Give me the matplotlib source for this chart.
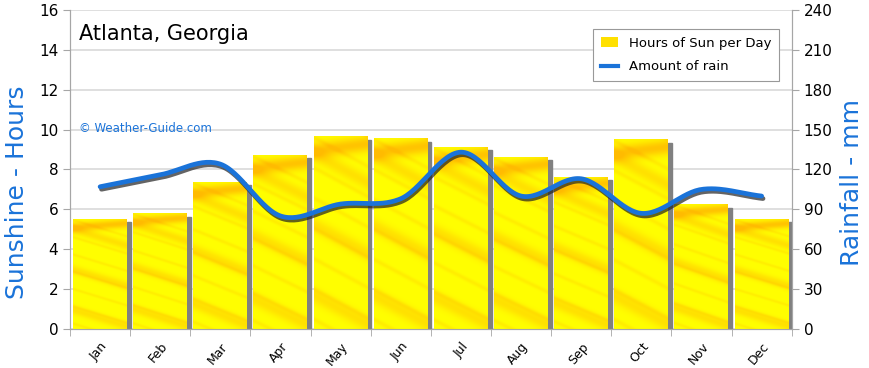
import matplotlib
matplotlib.use("Agg")
import matplotlib.pyplot as plt
import matplotlib.patheffects as pe
from matplotlib.patches import Rectangle
from matplotlib.lines import Line2D
import numpy as np

months = ['Jan', 'Feb', 'Mar', 'Apr', 'May', 'Jun', 'Jul', 'Aug', 'Sep', 'Oct', 'Nov', 'Dec']
sun_hours = [5.5, 5.78, 7.35, 8.7, 9.63, 9.53, 9.12, 8.6, 7.62, 9.5, 6.22, 5.5]
rain_mm = [107, 116, 124, 85, 94, 98, 133, 100, 113, 87, 105, 100]

blue = '#1a73d9'
grid_col = '#d9d9d9'
axis_col = '#a6a6a6'


def catmull_rom(x, y, n=30):
    # smooth line through the points (like the "smoothed line" option)
    x = np.asarray(x, float)
    y = np.asarray(y, float)
    px = np.concatenate([[2 * x[0] - x[1]], x, [2 * x[-1] - x[-2]]])
    py = np.concatenate([[2 * y[0] - y[1]], y, [2 * y[-1] - y[-2]]])
    xs, ys = [], []
    t = np.linspace(0, 1, n, endpoint=False)
    for i in range(1, len(px) - 2):
        for p, out in ((px, xs), (py, ys)):
            p0, p1, p2, p3 = p[i - 1], p[i], p[i + 1], p[i + 2]
            out.append(0.5 * ((2 * p1) + (-p0 + p2) * t + (2 * p0 - 5 * p1 + 4 * p2 - p3) * t ** 2
                              + (-p0 + 3 * p1 - 3 * p2 + p3) * t ** 3))
    xs.append([x[-1]])
    ys.append([y[-1]])
    return np.concatenate(xs), np.concatenate(ys)


def sun_texture(h=240, w=60):
    # yellow with soft diagonal orange streaks, darker band near the top
    yy, xx = np.mgrid[0:h, 0:w]
    d = yy - xx * 0.6
    s = (np.sin(d / 14.0) * 0.5 + 0.5) ** 8 * 0.35
    s += (np.sin(d / 6.0 + 1.3) * 0.5 + 0.5) ** 14 * 0.2
    s += np.exp(-((yy - 18 + xx * 0.15) / 10.0) ** 2) * 0.7
    s = np.clip(s, 0, 0.8)
    img = np.zeros((h, w, 3))
    img[..., 0] = 1.0
    img[..., 1] = 1.0 - 0.33 * s
    img[..., 2] = 0.0
    return img


fig = plt.figure(figsize=(8.7, 3.68), dpi=100)
ax = fig.add_axes([0.0805, 0.106, 0.8295, 0.867])
ax2 = ax.twinx()

x = np.arange(len(months))
width = 0.89
tex = sun_texture()

ax.set_xlim(-0.5, 11.5)
ax.set_ylim(0, 16)
ax2.set_ylim(0, 240)

for xi, h in zip(x, sun_hours):
    x0 = xi - width / 2 - 0.005
    ax.add_patch(Rectangle((x0 + width, 0), 0.07, h - 0.15, color='#808080', zorder=2))
    ax.imshow(tex, extent=[x0, x0 + width, 0, h], aspect='auto', zorder=3, interpolation='bilinear')

ax.set_yticks(np.arange(0, 17, 2))
ax.grid(axis='y', color=grid_col, linewidth=1.2, zorder=0)
ax.set_axisbelow(True)

ax.set_xticks(x)
ax.set_xticklabels(months, rotation=50, ha='right', fontsize=9, rotation_mode='anchor')
ax.set_xticks(np.arange(-0.5, 12, 1), minor=True)
ax.tick_params(axis='x', which='major', length=0, pad=8)
ax.tick_params(axis='x', which='minor', length=5, color=axis_col)
ax.tick_params(axis='y', length=5, color=axis_col, labelsize=11)
ax2.set_yticks(np.arange(0, 241, 30))
ax2.tick_params(axis='y', length=5, color=axis_col, labelsize=11)

for a in (ax, ax2):
    a.spines['top'].set_visible(False)
    for side in ('left', 'right', 'bottom'):
        a.spines[side].set_color(axis_col)

lx, ly = catmull_rom(x, rain_mm)
ax2.plot(lx, ly, color=blue, linewidth=3.4, solid_capstyle='round', zorder=5,
         path_effects=[pe.SimpleLineShadow(offset=(1, -1.8), shadow_color='#222222', alpha=0.7),
                       pe.Normal()])

ax.set_ylabel('Sunshine - Hours', color=blue, fontsize=18)
ax.yaxis.set_label_coords(-0.057, 0.43)
ax2.set_ylabel('Rainfall - mm', color=blue, fontsize=18)
ax2.yaxis.set_label_coords(1.067, 0.46)

ax.text(0.012, 0.955, 'Atlanta, Georgia', transform=ax.transAxes, fontsize=15, va='top', ha='left')
ax.text(0.012, 0.627, '\u00a9 Weather-Guide.com', transform=ax.transAxes, fontsize=8.5,
        color=blue, va='center', ha='left')

handles = [Rectangle((0, 0), 1, 1, facecolor='#ffe000', edgecolor='none'),
           Line2D([0], [0], color=blue, linewidth=3)]
leg = ax2.legend(handles, ['Hours of Sun per Day', 'Amount of rain'], loc='upper right',
                 bbox_to_anchor=(0.992, 0.962), fontsize=9.5, fancybox=False,
                 edgecolor='#999999', framealpha=1, handlelength=1.3, borderpad=0.6, labelspacing=0.8)
leg.get_frame().set_linewidth(0.8)
leg.set_zorder(10)

fig.savefig('out.png', dpi=100)
